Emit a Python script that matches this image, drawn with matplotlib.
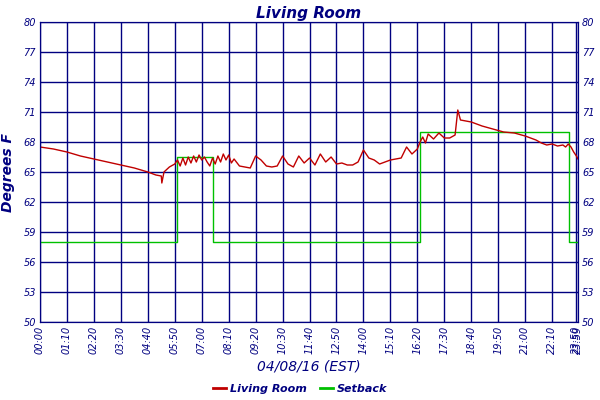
import matplotlib
matplotlib.use("Agg")
import matplotlib.pyplot as plt
import numpy as np

tick_labels = ["00:00","01:10","02:20","03:30","04:40","05:50","07:00","08:10","09:20","10:30",
               "11:40","12:50","14:00","15:10","16:20","17:30","18:40","19:50","21:00","22:10","23:50","23:59"]
tick_pos = list(range(20)) + [19.88, 19.95]
yticks = [50,53,56,59,62,65,68,71,74,77,80]

# Living room: (position in tick units, deg F)
lr_x = [0,0.5,1.0,1.5,2.0,2.5,3.0,3.5,4.0,4.3,4.5,4.52,4.6,4.8,5.0,5.1,5.2,5.3,5.4,5.5,5.6,5.7,5.8,
        5.9,6.0,6.1,6.2,6.3,6.4,6.5,6.6,6.7,6.8,6.9,7.0,7.1,7.2,7.4,7.6,7.8,8.0,8.2,8.4,8.6,8.8,9.0,
        9.2,9.4,9.6,9.8,10.0,10.2,10.4,10.6,10.8,11.0,11.2,11.4,11.6,11.8,12.0,12.2,12.4,12.6,12.8,
        13.0,13.2,13.4,13.6,13.8,14.0,14.1,14.2,14.3,14.4,14.6,14.8,15.0,15.2,15.4,15.5,15.6,15.8,
        16.0,16.4,16.8,17.2,17.6,18.0,18.4,18.6,18.8,19.0,19.2,19.4,19.5,19.6,19.7,19.8,19.9,19.96]
lr_y = [67.5,67.3,67.0,66.6,66.3,66.0,65.7,65.4,65.0,64.7,64.6,63.9,65.0,65.5,65.8,66.2,65.6,66.4,65.7,
        66.5,65.9,66.6,66.0,66.7,66.2,66.5,66.0,65.6,66.4,65.8,66.6,66.0,66.8,66.2,66.7,65.9,66.3,
        65.6,65.5,65.4,66.6,66.2,65.6,65.5,65.6,66.6,65.8,65.5,66.6,65.9,66.4,65.7,66.8,66.0,66.5,
        65.8,65.9,65.7,65.7,66.0,67.2,66.4,66.2,65.8,66.0,66.2,66.3,66.4,67.5,66.8,67.3,68.0,68.5,
        67.9,68.8,68.3,68.9,68.4,68.4,68.7,71.2,70.2,70.1,70.0,69.6,69.3,69.0,68.9,68.6,68.2,67.9,
        67.7,67.8,67.6,67.7,67.5,67.8,67.5,67.0,66.6,66.3]

# Setback step schedule
sb_x = [0,5.08,5.08,6.42,6.42,14.1,14.1,19.63,19.63,19.96]
sb_y = [58,58,66.5,66.5,58,58,69,69,58,58]

navy = "#000080"
fig = plt.figure(figsize=(6,4), dpi=100)
ax = fig.add_axes([40/600, 1-322/400, 538/600, 300/400])
ax.plot(sb_x, sb_y, color="#00c000", lw=1.0)
ax.plot(lr_x, lr_y, color="#c00000", lw=1.0)
ax.set_xlim(0, 19.96)
ax.set_ylim(50, 80)
ax.set_xticks(tick_pos)
ax.set_xticklabels(tick_labels, rotation=90, fontsize=7, style="italic", color=navy)
ax.set_yticks(yticks)
ax.set_yticklabels([str(v) for v in yticks], fontsize=7, style="italic", color=navy)
ax.tick_params(length=0, pad=3)
ax.grid(True, color=navy, lw=1)
for s in ax.spines.values():
    s.set_color(navy)
ax2 = ax.twinx()
ax2.set_ylim(50, 80)
ax2.set_yticks(yticks)
ax2.set_yticklabels([str(v) for v in yticks], fontsize=7, style="italic", color=navy)
ax2.tick_params(length=0, pad=3)
for s in ax2.spines.values():
    s.set_color(navy)
ax.set_title("Living Room", fontsize=11, style="italic", fontweight="bold", color=navy, pad=3)
ax.set_ylabel("Degrees F", fontsize=10, style="italic", fontweight="bold", color=navy, labelpad=6)
ax.set_xlabel("04/08/16 (EST)", fontsize=10, style="italic", color=navy, labelpad=4)
h1, = ax.plot([], [], color="#c00000", lw=2, label="Living Room")
h2, = ax.plot([], [], color="#00c000", lw=2, label="Setback")
fig.legend(handles=[h1, h2], loc="lower center", bbox_to_anchor=(0.5, -0.01), ncol=2, frameon=False,
           prop={"size": 8, "style": "italic", "weight": "bold"}, labelcolor=navy,
           handlelength=1.2, handletextpad=0.3, columnspacing=1.2)
fig.savefig("out.png", dpi=100)
